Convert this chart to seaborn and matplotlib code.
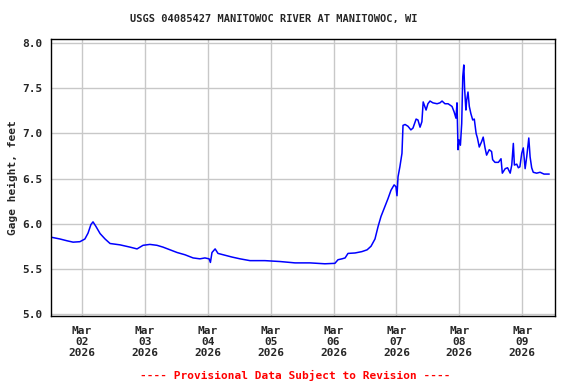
import pandas as pd
import matplotlib
matplotlib.use("Agg")
import matplotlib.pyplot as plt
import matplotlib.dates as mdates
import seaborn as sns

# Gage height readings (hours after 2026-03-01 00:00, feet)
hours = [12.2, 15.6, 18.3, 20.6, 23.2, 25.1, 26.3, 27.4, 28.2, 29.3, 30.9, 32.8,
         34.7, 38.5, 42.3, 45.0, 47.3, 49.9, 52.6, 54.9, 57.6, 60.3, 63.3, 66.4,
         69.0, 70.9, 72.5, 73.0, 73.6, 74.8, 75.9, 78.6, 81.2, 84.3, 88.1, 93.8,
         99.6, 105.3, 111.0, 116.7, 120.5, 121.7, 123.2, 124.4, 125.5, 128.2, 130.8,
         132.8, 134.3, 135.8, 137.0, 138.1, 139.6, 140.8, 141.9, 143.1, 143.8, 144.2,
         144.6, 145.3, 146.1, 146.5, 147.3, 148.4, 149.5, 150.3, 151.5, 152.2, 153.0,
         153.7, 154.2, 155.3, 156.0, 156.8, 157.9, 159.5, 160.6, 161.4, 162.5, 163.7,
         165.2, 166.0, 166.7, 167.1, 167.5, 167.9, 168.4, 168.9, 169.3, 169.7, 170.0,
         170.5, 170.8, 171.3, 171.8, 172.4, 173.1, 173.7, 174.4, 174.9, 175.6, 176.5,
         177.1, 177.8, 178.4, 179.4, 180.3, 180.7, 181.6, 182.9, 183.9, 184.4, 185.5,
         186.4, 187.4, 188.0, 188.6, 189.0, 189.9, 190.5, 191.1, 191.8, 192.4, 193.1,
         193.7, 194.5, 195.0, 195.6, 196.2, 197.5, 198.8, 200.3, 202.3]
gage_ft = [5.85, 5.83, 5.81, 5.795, 5.80, 5.83, 5.895, 5.99, 6.02, 5.97, 5.89, 5.83,
           5.78, 5.765, 5.74, 5.72, 5.76, 5.77, 5.76, 5.74, 5.71, 5.68, 5.655, 5.62,
           5.61, 5.62, 5.61, 5.57, 5.68, 5.72, 5.67, 5.65, 5.63, 5.61, 5.59, 5.59,
           5.58, 5.565, 5.565, 5.555, 5.56, 5.60, 5.61, 5.62, 5.67, 5.675, 5.69,
           5.71, 5.75, 5.83, 5.97, 6.08, 6.19, 6.28, 6.37, 6.43, 6.41, 6.31,
           6.52, 6.63, 6.78, 7.09, 7.10, 7.08, 7.04, 7.06, 7.16, 7.15, 7.07,
           7.13, 7.35, 7.26, 7.33, 7.36, 7.34, 7.33, 7.34, 7.36, 7.33, 7.33,
           7.30, 7.24, 7.17, 7.34, 6.82, 6.93, 6.87, 7.11, 7.63, 7.76, 7.50,
           7.26, 7.37, 7.46, 7.30, 7.22, 7.15, 7.16, 7.00, 6.95, 6.85, 6.91,
           6.96, 6.84, 6.76, 6.82, 6.80, 6.71, 6.68, 6.68, 6.72, 6.56, 6.61,
           6.62, 6.56, 6.65, 6.89, 6.65, 6.66, 6.62, 6.63, 6.78, 6.84, 6.61,
           6.74, 6.95, 6.74, 6.62, 6.57, 6.56, 6.57, 6.55, 6.55]

title = "USGS 04085427 MANITOWOC RIVER AT MANITOWOC, WI"
footer = "---- Provisional Data Subject to Revision ----"
y_ticks = [5.0, 5.5, 6.0, 6.5, 7.0, 7.5, 8.0]

start = pd.Timestamp("2026-03-01 00:00")
df = pd.DataFrame({"time": start + pd.to_timedelta(hours, unit="h"), "gage": gage_ft})

sns.set_style("white")
plt.rcParams["font.family"] = ["DejaVu Sans Mono"]
plt.rcParams["font.weight"] = "bold"

fig = plt.figure(figsize=(5.76, 3.84), dpi=100)
ax = fig.add_axes([51 / 576, 1 - 316 / 384, 504 / 576, 277 / 384])

sns.lineplot(data=df, x="time", y="gage", ax=ax, color="#0000ff", linewidth=1.1)

ax.set_xlim(pd.Timestamp("2026-03-01 12:10"), pd.Timestamp("2026-03-09 12:30"))
ax.set_ylim(4.976, 8.048)
ax.set_yticks(y_ticks)
ax.set_yticklabels([f"{v:.1f}" for v in y_ticks], fontsize=8, fontweight="bold")

ax.xaxis.set_major_locator(mdates.DayLocator())
ax.xaxis.set_major_formatter(mdates.DateFormatter("%b\n%d\n%Y"))
for lbl in ax.get_xticklabels():
    lbl.set_fontsize(8)
    lbl.set_fontweight("bold")
    lbl.set_linespacing(1.15)

ax.grid(True, color="#c8c8c8", linewidth=1.0)
ax.set_axisbelow(True)
ax.tick_params(axis="both", length=0)
ax.tick_params(axis="x", pad=7)
ax.tick_params(axis="y", pad=6)
for sp in ax.spines.values():
    sp.set_color("black")
    sp.set_linewidth(1.0)

ax.set_xlabel("")
ax.set_ylabel("Gage height, feet", fontsize=8, fontweight="bold", labelpad=3)

fig.text(274 / 576, 1 - 19 / 384, title, ha="center", va="center",
         fontsize=7.5, fontweight="bold")
fig.text(295 / 576, 1 - 375 / 384, footer, ha="center", va="center",
         fontsize=8, fontweight="bold", color="#ff0000")

fig.savefig("out.png", dpi=100)
